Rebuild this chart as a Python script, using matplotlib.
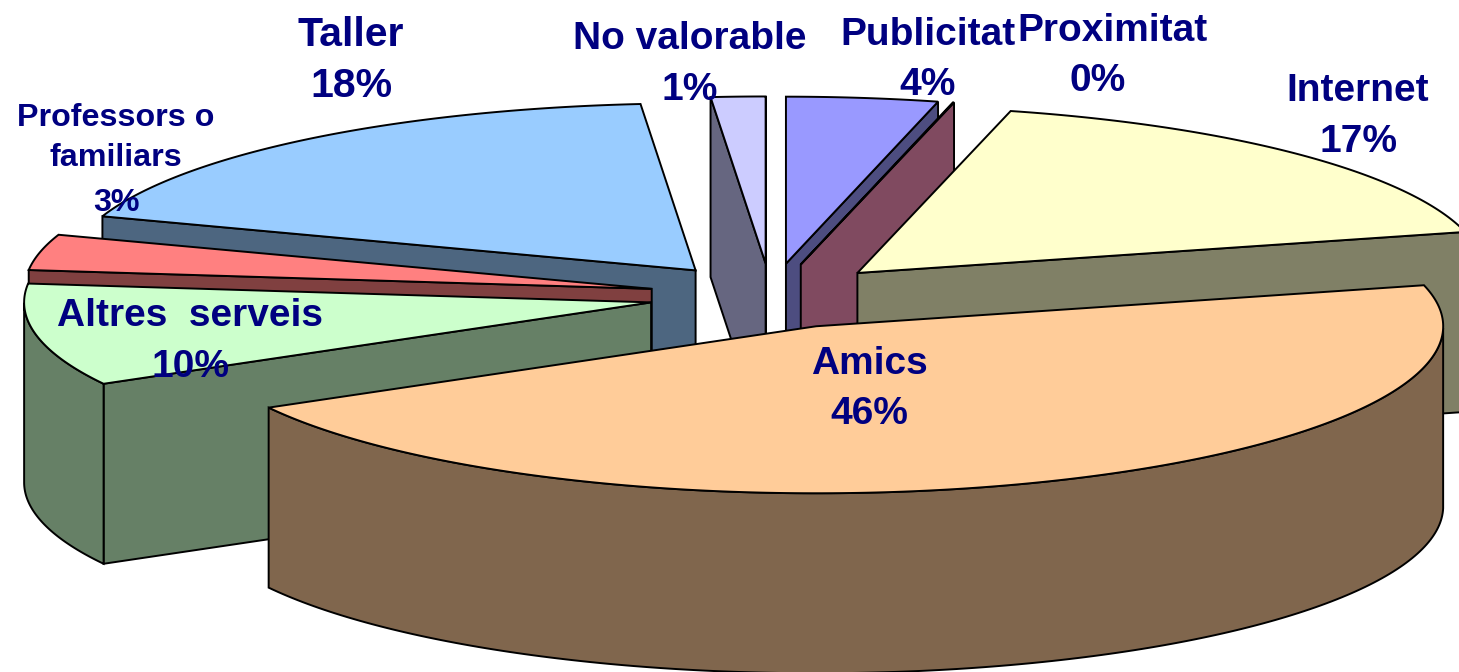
import numpy
import matplotlib.pyplot as plt

plt.rcParams['font.family'] = ['Liberation Sans', 'DejaVu Sans']

names = ["Publicitat", "Proximitat", "Internet", "Amics",
         "Altres  serveis", "Professors o\nfamiliars", "Taller", "No valorable"]
percents = ["4%", "0%", "17%", "46%", "10%", "3%", "18%", "1%"]
values = [3.9, 0.03, 17.12, 45.85, 9.9, 3.45, 18.35, 1.4]
topColors = ["#9999FF", "#993366", "#FFFFCC", "#FFCC99", "#CCFFCC", "#FF8080", "#99CCFF", "#CCCCFF"]
sideColors = ["#4D4D80", "#804A60", "#808066", "#80664D", "#668066", "#804040", "#4D6680", "#666680"]
nameX = [928, 1113, 1358, 869, 190, 116, 351, 690]
nameBase = [45, 41, 101, 374, 326, 166, 46, 49]
percentX = [928, 1098, 1358, 869, 190, 116, 351, 690]
percentBase = [95, 91, 152, 424, 377, 211, 97, 100]
labelSize = [28, 28, 28, 28, 28, 23.2, 29.5, 28]
drawOrder = [6, 7, 0, 1, 2, 5, 4, 3]

centerX, centerY = 771, 296
radiusX, radiusY = 627, 167
explode = 0.195
depth = 180

def rim(angles, apexX, apexY):
    return apexX + radiusX*numpy.sin(angles), apexY - radiusY*numpy.cos(angles)

fig = plt.figure(figsize = (14.59, 6.72), dpi = 100)
ax = fig.add_axes([0, 0, 1, 1])
ax.set_xlim(0, 1459)
ax.set_ylim(672, 0)
ax.axis("off")

edges = numpy.cumsum([0] + values)/numpy.sum(values)*2*numpy.pi
for i in drawOrder:
    start, end = edges[i], edges[i+1]
    mid = (start + end)/2.0
    apexX, apexY = rim(mid, centerX, centerY)
    apexX = centerX + explode*(apexX - centerX)
    apexY = centerY + explode*(apexY - centerY)
    angles = numpy.linspace(start, end, 200)
    x, y = rim(angles, apexX, apexY)

    # cut faces, only the ones that are not under the slice's own top
    if numpy.sin(start) < 0:
        ax.fill([apexX, x[0], x[0], apexX], [apexY, y[0], y[0] + depth, apexY + depth],
                fc = sideColors[i], ec = "black", lw = 1.4)
    if numpy.sin(end) > 0:
        ax.fill([apexX, x[-1], x[-1], apexX], [apexY, y[-1], y[-1] + depth, apexY + depth],
                fc = sideColors[i], ec = "black", lw = 1.4)

    # outer wall, only the part turned to the viewer
    front = numpy.cos(angles) < 0
    if front.any():
        xWall, yWall = x[front], y[front]
        ax.fill(numpy.r_[xWall, xWall[::-1]], numpy.r_[yWall, yWall[::-1] + depth],
                fc = sideColors[i], ec = "black", lw = 1.4)

    ax.fill(numpy.r_[apexX, x], numpy.r_[apexY, y], fc = topColors[i], ec = "black", lw = 1.4)

for i in range(len(names)):
    ax.text(nameX[i], nameBase[i], names[i], color = "#000080", fontsize = labelSize[i],
            fontweight = "bold", ha = "center", va = "baseline", linespacing = 1.45)
    ax.text(percentX[i], percentBase[i], percents[i], color = "#000080", fontsize = labelSize[i],
            fontweight = "bold", ha = "center", va = "baseline")

plt.savefig("out.png", dpi = 100)
